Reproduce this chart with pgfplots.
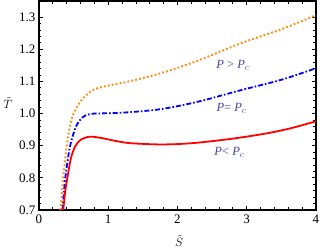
\documentclass[border=0pt]{standalone}
\usepackage{pgfplots}
\pgfplotsset{compat=1.18}
\usepackage{fontspec}
\setmainfont{Liberation Serif}
\definecolor{morange}{RGB}{255,140,20}
\definecolor{lblue}{RGB}{70,70,160}
\begin{document}
\begin{tikzpicture}
\begin{axis}[
  at={(0,0)}, anchor=south west,
  scale only axis, width=277pt, height=209pt,
  xmin=0, xmax=4, ymin=0.7, ymax=1.35,
  xtick={0,1,2,3,4}, ytick={0.7,0.8,0.9,1.0,1.1,1.2,1.3},
  yticklabels={0.7,0.8,0.9,1.0,1.1,1.2,1.3},
  minor x tick num=4, minor y tick num=4,
  tick align=inside, major tick length=4pt, minor tick length=2.5pt,
  every tick/.style={black, line width=0.8pt},
  axis line style={line width=1.2pt},
  tick label style={font=\fontsize{13}{15}\selectfont},
  /pgf/number format/assume math mode=true,
  xticklabel style={yshift=-1pt},
  clip=true,
]
\addplot[morange, line width=2pt, dash pattern=on 1.8pt off 2.2pt, smooth, tension=0.5] coordinates {
(0.31,0.7)(0.35,0.8)(0.40,0.9)(0.45,0.965)(0.5,1.0)(0.6,1.038)(0.73,1.066)(0.85,1.079)(1.0,1.087)(1.3,1.10)(1.77,1.126)(2.3,1.165)(2.92,1.219)(3.5,1.262)(4,1.306)};
\addplot[blue, line width=1.8pt, dash pattern=on 5pt off 2pt on 1.6pt off 2pt, smooth, tension=0.5] coordinates {
(0.34,0.7)(0.38,0.8)(0.45,0.9)(0.54,0.962)(0.64,0.99)(0.75,0.999)(1.0,1.001)(1.3,1.004)(1.77,1.014)(2.3,1.037)(2.92,1.073)(3.5,1.105)(4,1.141)};
\addplot[red, line width=1.8pt, smooth, tension=0.5] coordinates {
(0.35,0.7)(0.38,0.76)(0.41,0.8)(0.46,0.86)(0.52,0.897)(0.6,0.918)(0.73,0.928)(0.9,0.924)(1.1,0.915)(1.31,0.908)(1.7,0.904)(2.0,0.905)(2.32,0.910)(2.8,0.922)(3.28,0.938)(3.65,0.955)(4,0.976)};
\node[lblue, font=\fontsize{12.5}{14}\selectfont] at (axis cs:2.8,1.15) {\textit{P} > \textit{P}$_c$};
\node[lblue, font=\fontsize{12.5}{14}\selectfont] at (axis cs:2.78,1.017) {\textit{P}= \textit{P}$_c$};
\node[lblue, font=\fontsize{12.5}{14}\selectfont] at (axis cs:2.75,0.88) {\textit{P}< \textit{P}$_c$};
\end{axis}
\node[font=\fontsize{12}{14}\selectfont, inner sep=0pt] at (-31pt,107pt) {$\tilde{T}$};
\node[font=\fontsize{12}{14}\selectfont, inner sep=0pt] at (140pt,-31pt) {$\tilde{S}$};
\pgfresetboundingbox
\path (-39pt,-39pt) rectangle (285pt,210pt);
\end{tikzpicture}
\end{document}
